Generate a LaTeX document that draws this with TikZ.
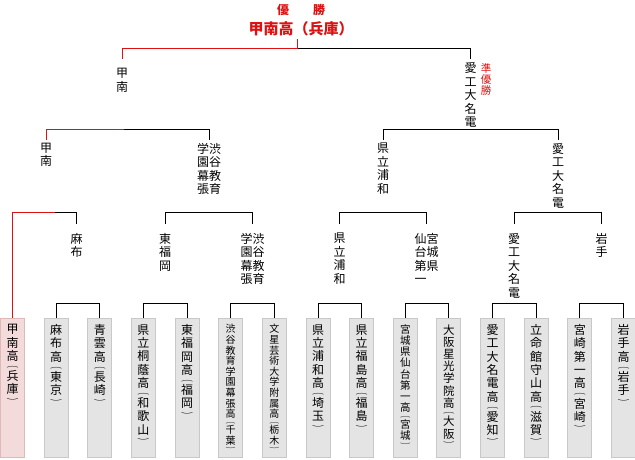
\documentclass[tikz,border=0pt]{standalone}
\usepackage{fontspec}
\usepackage{graphicx}
\setmainfont{Noto Sans CJK JP}
\usetikzlibrary{positioning}
\definecolor{winred}{RGB}{221,17,17}
\definecolor{boxfill}{RGB}{228,228,228}
\definecolor{boxline}{RGB}{200,200,200}
\definecolor{konanfill}{RGB}{243,219,219}
\definecolor{konanline}{RGB}{223,184,184}
% prefecture in flat vertical brackets, half a line each
\newcommand{\kaku}[1]{\\[-.48\baselineskip]\scalebox{1}[.5]{︵}\\#1\\[-.3\baselineskip]\scalebox{1}[.5]{︶}}

\begin{document}
\begin{tikzpicture}[x=1pt,y=-1pt,line width=1pt]
	%
	% `school' is a team's box at the bottom, `entry' the name written in it.
	% `team' is a winner's name, set down the bracket; `win' marks Konan's way up.
	\tikzstyle{school} = [draw=boxline,fill=boxfill,anchor=north,minimum width=24pt,minimum height=139pt,inner sep=0pt]
	\tikzstyle{entry} = [align=center,inner sep=0pt,font=\fontsize{12}{13.3}\selectfont]
	\tikzstyle{team} = [align=center,anchor=north,inner xsep=0pt,inner ysep=2.5pt,font=\fontsize{12}{13.5}\selectfont]
	\tikzstyle{win} = [draw=winred]
	\useasboundingbox (0,0) rectangle (635,460);
	%
	% Schools
	\node[school,fill=konanfill,draw=konanline] (konan) at (12.5,318) {};
	\node[entry,below=6pt of konan.north] (konan-t) {甲\\南\\高\kaku{兵\\庫}};
	\node[school] (azabu) at (56.1,318) {};
	\node[entry,below=6pt of azabu.north] (azabu-t) {麻\\布\\高\kaku{東\\京}};
	\node[school] (seiun) at (99.8,318) {};
	\node[entry,below=6pt of seiun.north] (seiun-t) {青\\雲\\高\kaku{長\\崎}};
	\node[school] (toin) at (143.4,318) {};
	\node[entry,below=6pt of toin.north] (toin-t) {県\\立\\桐\\蔭\\高\kaku{和\\歌\\山}};
	\node[school] (higashi) at (187.1,318) {};
	\node[entry,below=6pt of higashi.north] (higashi-t) {東\\福\\岡\\高\kaku{福\\岡}};
	\node[school] (shibu) at (230.7,318) {};
	\node[entry,font=\fontsize{10}{10.6}\selectfont,below=6pt of shibu.north] (shibu-t) {渋\\谷\\教\\育\\学\\園\\幕\\張\\高\kaku{千\\葉}};
	\node[school] (bunsei) at (274.3,318) {};
	\node[entry,font=\fontsize{10}{10.6}\selectfont,below=6pt of bunsei.north] (bunsei-t) {文\\星\\芸\\術\\大\\学\\附\\属\\高\kaku{栃\\木}};
	\node[school] (urawa) at (318,318) {};
	\node[entry,below=6pt of urawa.north] (urawa-t) {県\\立\\浦\\和\\高\kaku{埼\\玉}};
	\node[school] (fukushima) at (361.6,318) {};
	\node[entry,below=6pt of fukushima.north] (fukushima-t) {県\\立\\福\\島\\高\kaku{福\\島}};
	\node[school] (sendai) at (405.3,318) {};
	\node[entry,font=\fontsize{10.5}{11.2}\selectfont,below=6pt of sendai.north] (sendai-t) {宮\\城\\県\\仙\\台\\第\\一\\高\kaku{宮\\城}};
	\node[school] (seiko) at (448.9,318) {};
	\node[entry,font=\fontsize{11.5}{12.2}\selectfont,below=6pt of seiko.north] (seiko-t) {大\\阪\\星\\光\\学\\院\\高\kaku{大\\阪}};
	\node[school] (meiden) at (492.5,318) {};
	\node[entry,below=6pt of meiden.north] (meiden-t) {愛\\工\\大\\名\\電\\高\kaku{愛\\知}};
	\node[school] (moriyama) at (536.2,318) {};
	\node[entry,below=6pt of moriyama.north] (moriyama-t) {立\\命\\館\\守\\山\\高\kaku{滋\\賀}};
	\node[school] (miyazaki) at (579.8,318) {};
	\node[entry,below=6pt of miyazaki.north] (miyazaki-t) {宮\\崎\\第\\一\\高\kaku{宮\\崎}};
	\node[school] (iwate) at (623.5,318) {};
	\node[entry,below=6pt of iwate.north] (iwate-t) {岩\\手\\高\kaku{岩\\手}};
	%
	% Round 1
	\draw (azabu.north) -- ++(0,-15) -| (seiun.north);
	\draw (toin.north) -- ++(0,-15) -| (higashi.north);
	\draw (shibu.north) -- ++(0,-15) -| (bunsei.north);
	\draw (urawa.north) -- ++(0,-15) -| (fukushima.north);
	\draw (sendai.north) -- ++(0,-15) -| (seiko.north);
	\draw (meiden.north) -- ++(0,-15) -| (moriyama.north);
	\draw (miyazaki.north) -- ++(0,-15) -| (iwate.north);
	\node[team,inner ysep=9pt] (azabu1) at (76.5,223.5) {麻\\布};
	\node[team,inner ysep=9pt] (higashi1) at (165,223.5) {東\\福\\岡};
	\node[team,inner ysep=9pt] (shibu1) at (252.5,223.5) {学渋\\園谷\\幕教\\張育};
	\node[team,inner ysep=9pt] (urawa1) at (339.5,223.5) {県\\立\\浦\\和};
	\node[team,inner ysep=9pt] (sendai1) at (426.5,223.5) {仙宮\\台城\\第県\\一\hphantom{県}};
	\node[team,inner ysep=9pt] (meiden1) at (514,223.5) {愛\\工\\大\\名\\電};
	\node[team,inner ysep=9pt] (iwate1) at (601.5,223.5) {岩\\手};
	%
	% Round 2
	\coordinate (r2) at (55,212);
	\draw[win] (konan.north) |- (r2);
	\draw (r2) -| (azabu1.north);
	\draw (higashi1.north) -- ++(0,-11.5) -| (shibu1.north);
	\draw (urawa1.north) -- ++(0,-11.5) -| (sendai1.north);
	\draw (meiden1.north) -- ++(0,-11.5) -| (iwate1.north);
	\node[team] (konan2) at (46,140) {甲\\南};
	\node[team] (shibu2) at (209,140) {学渋\\園谷\\幕教\\張育};
	\node[team] (urawa2) at (383,140) {県\\立\\浦\\和};
	\node[team] (meiden2) at (558,140) {愛\\工\\大\\名\\電};
	%
	% Semi finals
	\coordinate (r3) at (124,129);
	\draw[win] (konan2.north) |- (r3);
	\draw (r3) -| (shibu2.north);
	\draw (urawa2.north) -- ++(0,-11) -| (meiden2.north);
	\node[team,inner ysep=9pt] (konan3) at (122,59) {甲\\南};
	\node[team,inner ysep=3pt] (meiden3) at (470.5,59) {愛\\工\\大\\名\\電};
	\node[team,inner sep=0pt,text=winred,font=\fontsize{10.5}{11}\selectfont] (runnerup) at (486,63) {準\\優\\勝};
	%
	% Final
	\node[anchor=south,inner sep=2pt,text=winred,font=\bfseries\fontsize{15}{18}\selectfont] (champ) at (301,39) {甲南高（兵庫）};
	\node[inner sep=0pt,text=winred,font=\bfseries\fontsize{12}{14}\selectfont,above=3pt of champ] (title) {優　　勝};
	\coordinate (fmid) at (297,49);
	\draw[win] (konan3.north) |- (fmid);
	\draw (fmid) -| (meiden3.north);
	\draw[win] (fmid) -- (fmid |- champ.south);
	%
\end{tikzpicture}
\end{document}
